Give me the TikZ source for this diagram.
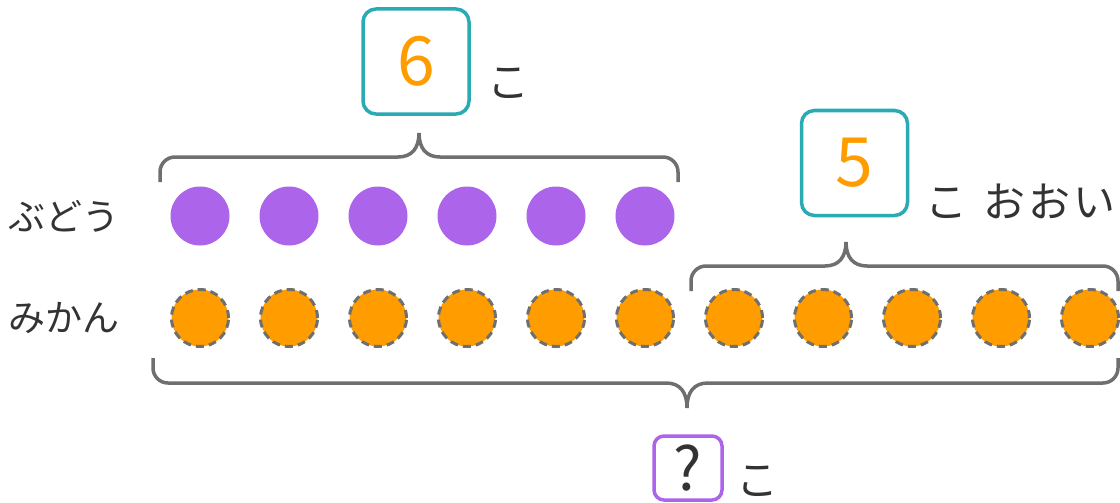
\documentclass[tikz,border=0pt]{standalone}
\usepackage{fontspec}
\newfontfamily\jpfont{Noto Sans CJK JP}
\usetikzlibrary{positioning}

\definecolor{grapepurple}{HTML}{AC64EA}
\definecolor{mikanorange}{HTML}{FF9D00}
\definecolor{boxteal}{HTML}{2AAAB3}
\definecolor{bracegray}{HTML}{6F6F6F}
\definecolor{inkgray}{HTML}{333333}

\tikzset{
  grape/.style={circle, fill=grapepurple, minimum size=59pt, inner sep=0pt},
  mikan/.style={circle, fill=mikanorange, draw=bracegray, line width=3pt,
    dash pattern=on 8pt off 5pt, minimum size=57pt, inner sep=0pt},
  brace/.style={draw=bracegray, line width=3.5pt},
  numbox/.style={draw=boxteal, line width=3.5pt, rounded corners=13pt,
    minimum width=106pt, minimum height=105pt, text=mikanorange,
    font=\jpfont\fontsize{68}{70}\selectfont},
  askbox/.style={draw=grapepurple, line width=3.5pt, rounded corners=10pt,
    minimum width=68pt, minimum height=64pt, text=inkgray,
    font=\jpfont\fontsize{60}{62}\selectfont},
  jptext/.style={inner sep=0pt, text=inkgray, font=\jpfont\fontsize{42}{46}\selectfont},
  rowname/.style={inner sep=0pt, anchor=west, text=inkgray, font=\jpfont\fontsize{37}{40}\selectfont}
}

\begin{document}
\begin{tikzpicture}[x=1pt, y=-1pt]
  \useasboundingbox (0,0) rectangle (1120,503);

  % braces
  \draw[brace] (160,182) -- (160,172) arc[start angle=180, end angle=90, radius=15pt]
    -- (398,157) .. controls (412,157) and (419,148) .. (419,133)
    .. controls (419,148) and (426,157) .. (440,157)
    -- (663,157) arc[start angle=90, end angle=0, radius=15pt] -- (678,182);
  \draw[brace] (691,291) -- (691,281) arc[start angle=180, end angle=90, radius=15pt]
    -- (825,266) .. controls (839,266) and (846,257) .. (846,242)
    .. controls (846,257) and (853,266) .. (867,266)
    -- (1103,266) arc[start angle=90, end angle=0, radius=15pt] -- (1118,291);
  \draw[brace] (153,358) -- (153,368) arc[start angle=180, end angle=270, radius=15pt]
    -- (666,383) .. controls (680,383) and (687,392) .. (687,408)
    .. controls (687,392) and (694,383) .. (708,383)
    -- (1103,383) arc[start angle=270, end angle=360, radius=15pt] -- (1118,358);

  % row names
  \node[rowname] (budou) at (8,216) {ぶどう};
  \node[rowname] (mikanname) at (8,318) {みかん};

  % grapes
  \node[grape] (g1) at (200,216) {};
  \node[grape] (g2) at (289,216) {};
  \node[grape] (g3) at (378,216) {};
  \node[grape] (g4) at (467,216) {};
  \node[grape] (g5) at (556,216) {};
  \node[grape] (g6) at (645,216) {};

  % mikans
  \node[mikan] (m1) at (200,318) {};
  \node[mikan] (m2) at (289,318) {};
  \node[mikan] (m3) at (378,318) {};
  \node[mikan] (m4) at (467,318) {};
  \node[mikan] (m5) at (556,318) {};
  \node[mikan] (m6) at (645,318) {};
  \node[mikan] (m7) at (734,318) {};
  \node[mikan] (m8) at (823,318) {};
  \node[mikan] (m9) at (912,318) {};
  \node[mikan] (m10) at (1001,318) {};
  \node[mikan] (m11) at (1090,318) {};

  % counts
  \node[numbox] (six) at (416,61.5) {6};
  \node[jptext] (sixko) at (508,83) {こ};

  \node[numbox] (five) at (854.5,163) {5};
  \node[jptext, anchor=west] (fiveko) at (925,201) {こ\hspace{16pt}お\kern3ptお\kern3ptい};

  \node[askbox] (ask) at (688,468) {?};
  \node[jptext] (askko) at (757,481) {こ};
\end{tikzpicture}
\end{document}
